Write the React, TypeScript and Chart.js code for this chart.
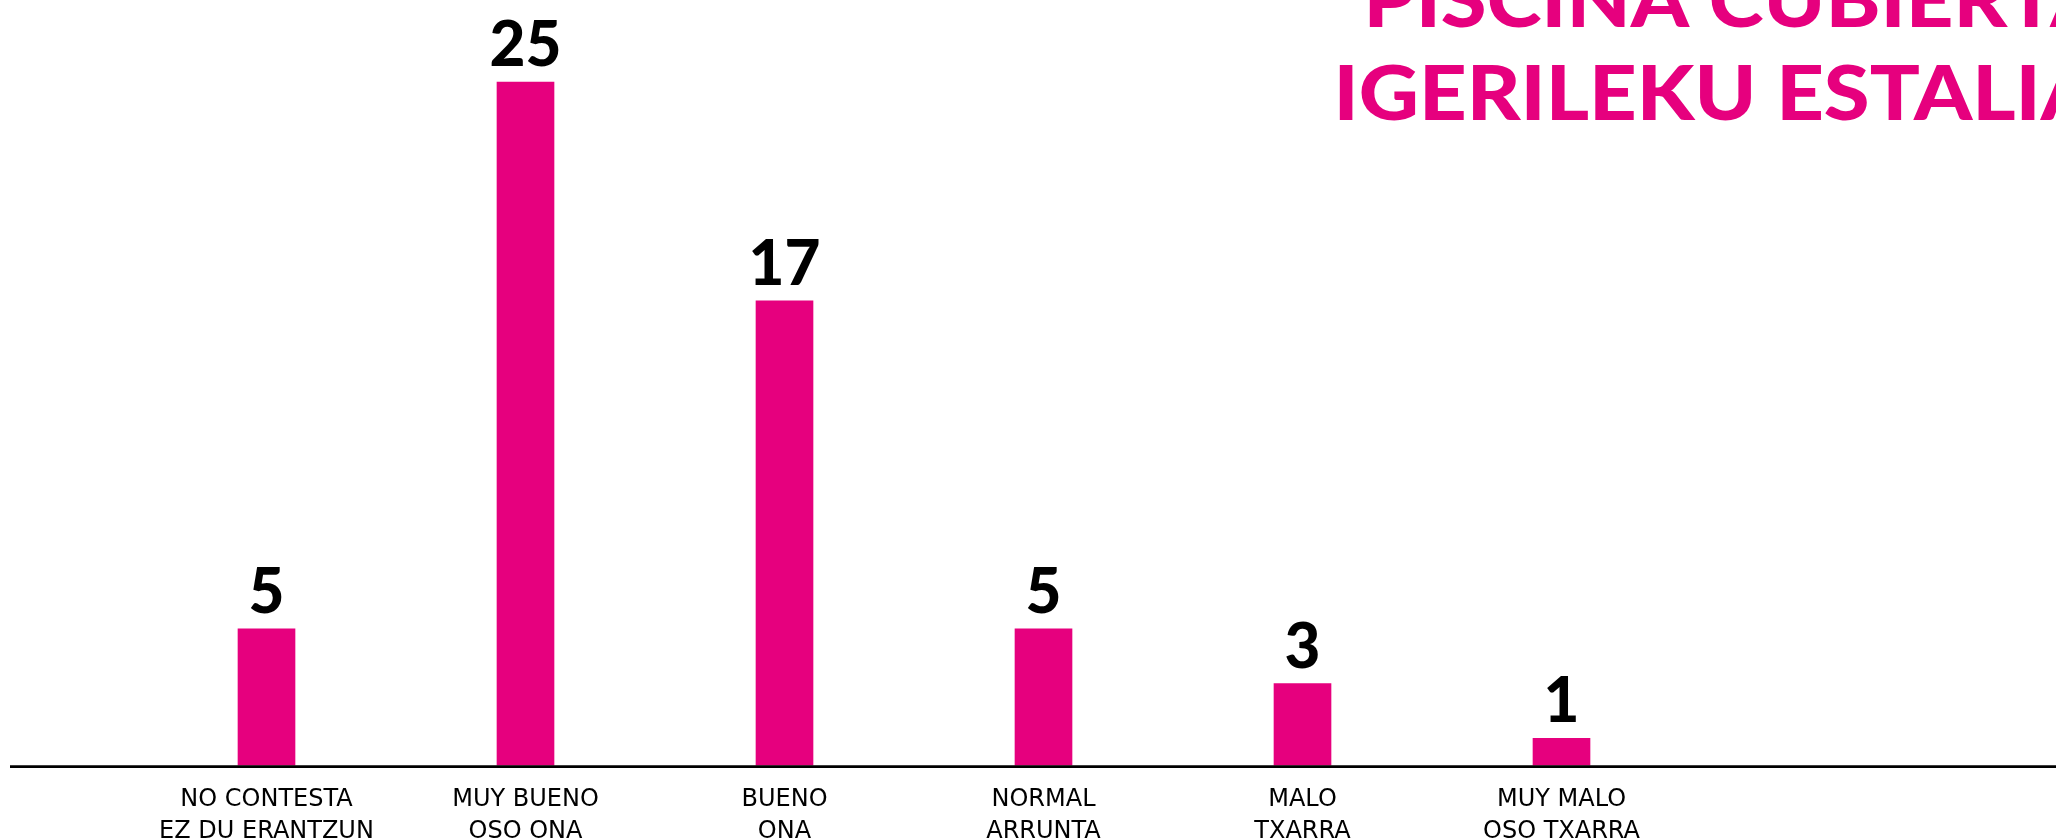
import React, { useEffect, useRef } from 'react';
import { Chart, registerables } from 'chart.js';

Chart.register(...registerables);

// ---- data ----
const categoriesEs = ['NO CONTESTA', 'MUY BUENO', 'BUENO', 'NORMAL', 'MALO', 'MUY MALO'];
const categoriesEu = ['EZ DU ERANTZUN', 'OSO ONA', 'ONA', 'ARRUNTA', 'TXARRA', 'OSO TXARRA'];
const votes = [5, 25, 17, 5, 3, 1];
const titleLines = ['PISCINA CUBIERTA', 'IGERILEKU ESTALIA'];

const MAGENTA = '#E6007E';
const W = 2056;
const VIEW_H = 838;
const CANVAS_H = 866;

const overlay = {
  id: 'overlay',
  afterDatasetsDraw(chart: any) {
    const ctx: CanvasRenderingContext2D = chart.ctx;
    const y0 = chart.scales.y.getPixelForValue(0);
    ctx.save();
    // baseline across the full width
    ctx.strokeStyle = '#000';
    ctx.lineWidth = 2.6;
    ctx.beginPath();
    ctx.moveTo(10, y0 + 1);
    ctx.lineTo(chart.width, y0 + 1);
    ctx.stroke();

    // value labels
    ctx.fillStyle = '#000';
    ctx.font = '900 62px Lato';
    ctx.textAlign = 'center';
    ctx.textBaseline = 'alphabetic';
    chart.getDatasetMeta(0).data.forEach((bar: any, i: number) => {
      ctx.fillText(String(votes[i]), bar.x, bar.y - 16);
    });

    // title (clipped by the canvas edge like the original)
    ctx.fillStyle = MAGENTA;
    ctx.font = '900 77px Lato';
    ctx.textAlign = 'left';
    const m2 = ctx.measureText('IGERILEKU ESTALI');
    const inkL2 = -m2.actualBoundingBoxLeft;
    const inkR2 = m2.actualBoundingBoxRight;
    const sx = (2035 - 1339) / (inkR2 - inkL2);
    const m1 = ctx.measureText(titleLines[0]);
    const inkL1 = -m1.actualBoundingBoxLeft;

    ctx.save();
    ctx.translate(1369 - inkL1 * sx, 27);
    ctx.scale(sx, 1);
    ctx.fillText(titleLines[0], 0, 0);
    ctx.restore();

    ctx.save();
    ctx.translate(1339 - inkL2 * sx, 120);
    ctx.scale(sx, 1);
    ctx.fillText(titleLines[1], 0, 0);
    ctx.restore();

    ctx.restore();
  },
};

export default function App() {
  const ref = useRef<HTMLCanvasElement>(null);
  useEffect(() => {
    document.body.style.margin = '0';
    const chart = new Chart(ref.current as HTMLCanvasElement, {
      type: 'bar',
      data: {
        labels: categoriesEs.map((c, i) => [c, categoriesEu[i]]),
        datasets: [
          {
            data: votes,
            backgroundColor: MAGENTA,
            borderWidth: 0,
            barThickness: 57,
          },
        ],
      },
      options: {
        responsive: false,
        animation: false,
        devicePixelRatio: 1,
        layout: { padding: { left: 137, right: 365, top: 0, bottom: 0 } },
        plugins: {
          legend: { display: false },
          tooltip: { enabled: false },
          title: { display: false },
        },
        scales: {
          x: {
            grid: { display: false, drawTicks: false },
            border: { display: false },
            ticks: {
              color: '#000',
              padding: 19,
              maxRotation: 0,
              autoSkip: false,
              font: { family: 'DejaVu Sans', size: 24, lineHeight: 1.3 },
            },
          },
          y: { display: false, min: 0, max: 28 },
        },
      },
      plugins: [overlay],
    } as any);
    return () => chart.destroy();
  }, []);
  return (
    <div style={{ width: W, height: VIEW_H, overflow: 'hidden' }}>
      <canvas ref={ref} width={W} height={CANVAS_H} style={{ display: 'block' }} />
    </div>
  );
}
